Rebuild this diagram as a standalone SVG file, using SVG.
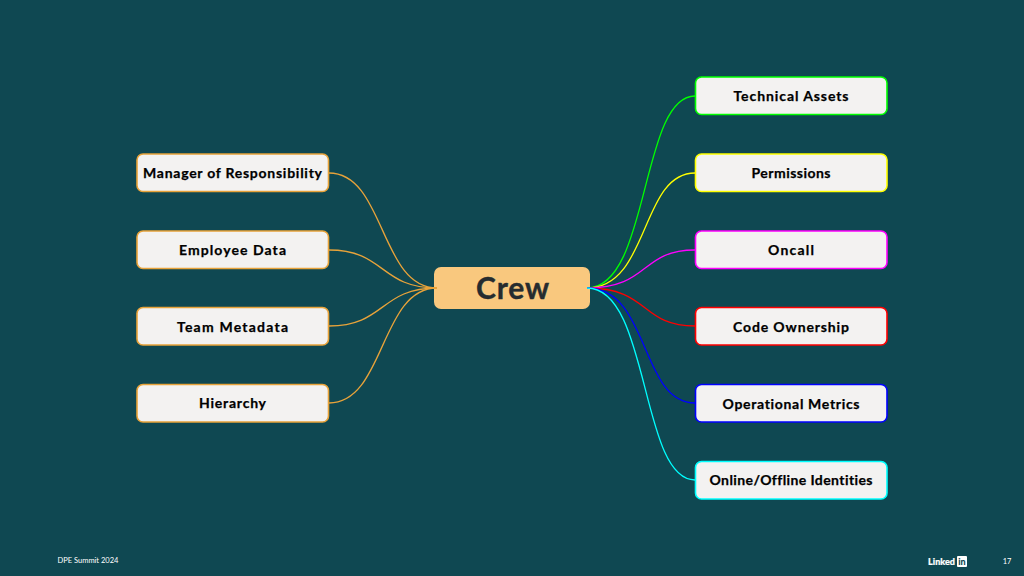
<svg xmlns="http://www.w3.org/2000/svg" width="1024" height="576" viewBox="0 0 1024 576">
<style>
text{font-family:"Lato","Liberation Sans",sans-serif;text-anchor:middle;font-variant-ligatures:none}
.n rect{fill:#f3f2f1;stroke-width:1.6}
.n text{font-size:14px;font-weight:700;fill:#000;stroke:#000;stroke-width:.25}
.o rect{stroke:#e8a33a}
#connectors path{fill:none;stroke-width:1.3}
.f{font-size:7.5px;fill:#fff}
</style>
<rect width="1024" height="576" fill="#0f4852"/>
<g id="crew"><rect x="434" y="267" width="156" height="42" rx="7" fill="#f9c87e"/><text x="512.500" y="299" font-size="30" font-weight="700" fill="#262c2f" stroke="#262c2f" stroke-width=".4" textLength="73">Crew</text></g>
<g id="connectors">
<g stroke="#e8a33a">
<path d="M329 173C385 173 380 288 437 288"/>
<path d="M329 250C385 250 380 288 437 288"/>
<path d="M329 326C385 326 380 288 437 288"/>
<path d="M329 403C385 403 380 288 437 288"/>
</g>
<path stroke="#00ff00" d="M587 288C650 288 640 96 695 96"/>
<path stroke="#ffff00" d="M587 288C650 288 640 173 695 173"/>
<path stroke="#ff00ff" d="M587 288C650 288 640 250 695 250"/>
<path stroke="#ff0000" d="M587 288C650 288 640 326 695 326"/>
<path stroke="#0000ff" d="M587 288C650 288 640 403 695 403"/>
<path stroke="#00ffff" d="M587 288C650 288 640 480 695 480"/>
</g>
<g id="manager" class="n o"><rect x="137" y="154" width="191.500" height="37.500" rx="6"/><text x="232.500" y="178" textLength="179">Manager of Responsibility</text></g>
<g id="employee" class="n o"><rect x="137" y="231" width="191.500" height="37.500" rx="6"/><text x="232.500" y="255" textLength="107">Employee Data</text></g>
<g id="team" class="n o"><rect x="137" y="307.500" width="191.500" height="37.500" rx="6"/><text x="232.500" y="332" textLength="111">Team Metadata</text></g>
<g id="hierarchy" class="n o"><rect x="137" y="384.500" width="191.500" height="37.500" rx="6"/><text x="232.500" y="408" textLength="67">Hierarchy</text></g>
<g id="assets" class="n"><rect x="695.500" y="77" width="191.500" height="37.500" rx="6" stroke="#00ff00"/><text x="791" y="101" textLength="115">Technical Assets</text></g>
<g id="permissions" class="n"><rect x="695.500" y="154" width="191.500" height="37.500" rx="6" stroke="#ffff00"/><text x="791" y="178" textLength="79">Permissions</text></g>
<g id="oncall" class="n"><rect x="695.500" y="231" width="191.500" height="37.500" rx="6" stroke="#ff00ff"/><text x="791" y="255" textLength="46">Oncall</text></g>
<g id="ownership" class="n"><rect x="695.500" y="307.500" width="191.500" height="37.500" rx="6" stroke="#ff0000"/><text x="791" y="332" textLength="116">Code Ownership</text></g>
<g id="metrics" class="n"><rect x="695.500" y="384.500" width="191.500" height="37.500" rx="6" stroke="#0000ff"/><text x="791" y="409" textLength="137">Operational Metrics</text></g>
<g id="identities" class="n"><rect x="695.500" y="461.500" width="191.500" height="37.500" rx="6" stroke="#00ffff"/><text x="791" y="485" textLength="163">Online/Offline Identities</text></g>
<text class="f" x="88" y="563">DPE Summit 2024</text>
<text x="941.500" y="565" font-size="9" font-weight="900" fill="#fff" stroke="#fff" stroke-width=".2">Linked</text>
<rect x="957" y="556" width="10" height="11" rx="1" fill="#fff"/>
<text x="962" y="565" font-size="9" font-weight="900" fill="#0f4852">in</text>
<text class="f" x="1007" y="564">17</text>
</svg>
